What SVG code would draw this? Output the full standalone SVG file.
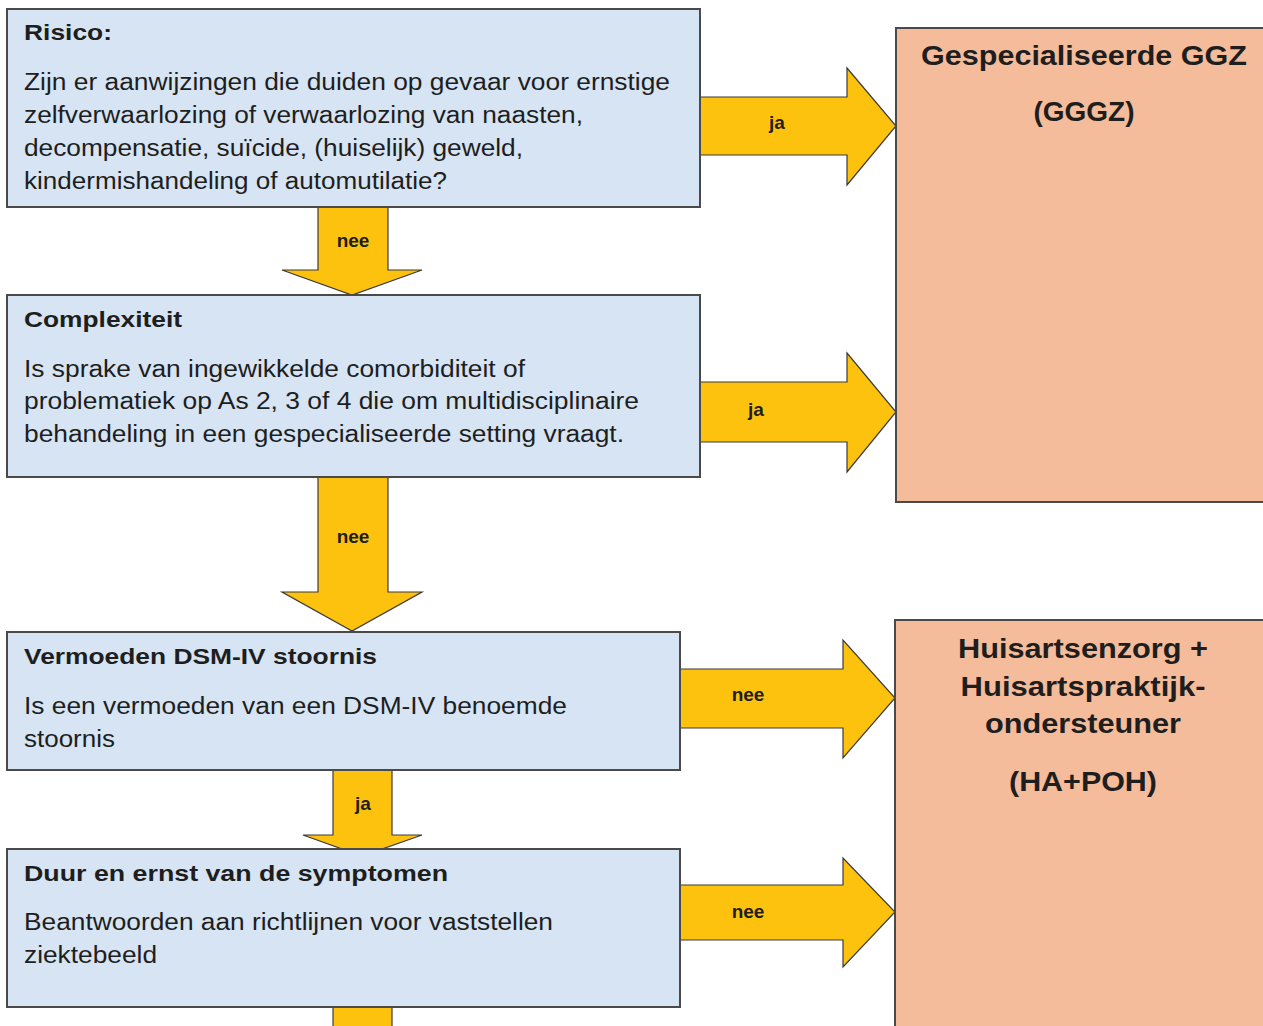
<svg xmlns="http://www.w3.org/2000/svg" width="1263" height="1026" viewBox="0 0 1263 1026">
<style>
.q{fill:#d6e4f3;stroke:#4a4a4a;stroke-width:2}
.o{fill:#f5bc9b;stroke:#4a4a4a;stroke-width:2}
.a{fill:#fdc20e;stroke:#3a3a3a;stroke-width:1.2;stroke-linejoin:miter}
.t{font-family:"Liberation Sans",Arial,sans-serif;font-size:23px;fill:#1e1e1e}
.b{font-family:"Liberation Sans",Arial,sans-serif;font-size:22px;font-weight:bold;fill:#1e1e1e}
.h{font-family:"Liberation Sans",Arial,sans-serif;font-size:28px;font-weight:bold;fill:#1e1e1e;text-anchor:middle}
.l{font-family:"Liberation Sans",Arial,sans-serif;font-size:19px;font-weight:bold;fill:#1e1e1e;text-anchor:middle}
</style>
<rect width="1263" height="1026" fill="#ffffff"/>
<g id="connectors">
<polygon class="a" points="700,97 847,97 847,68 896,126 847,185 847,155 700,155"/>
<text class="l" x="777" y="129">ja</text>
<polygon class="a" points="700,382 847,382 847,353 896,412 847,472 847,442 700,442"/>
<text class="l" x="756" y="416">ja</text>
<polygon class="a" points="680,669 843,669 843,640 895,698 843,758 843,728 680,728"/>
<text class="l" x="748" y="701">nee</text>
<polygon class="a" points="680,885 843,885 843,858 895,912 843,967 843,940 680,940"/>
<text class="l" x="748" y="918">nee</text>
<polygon class="a" points="318,207 388,207 388,270 422,270 352,295 282,270 318,270"/>
<text class="l" x="353" y="247">nee</text>
<polygon class="a" points="318,477 388,477 388,592 422,592 352,631 282,592 318,592"/>
<text class="l" x="353" y="543">nee</text>
<polygon class="a" points="333,770 392,770 392,835 422,835 362,856 303,835 333,835"/>
<text class="l" x="363" y="810">ja</text>
<polygon class="a" points="333,1007 392,1007 392,1030 333,1030"/>
</g>
<g id="ggz">
<rect class="o" x="896" y="28" width="380" height="474"/>
<text class="h" x="1084" y="65" textLength="326" lengthAdjust="spacingAndGlyphs">Gespecialiseerde GGZ</text>
<text class="h" x="1084" y="121">(GGGZ)</text>
</g>
<g id="haPoh">
<rect class="o" x="895" y="620" width="380" height="420"/>
<text class="h" x="1083" y="658" textLength="250" lengthAdjust="spacingAndGlyphs">Huisartsenzorg +</text>
<text class="h" x="1083" y="696" textLength="245" lengthAdjust="spacingAndGlyphs">Huisartspraktijk-</text>
<text class="h" x="1083" y="733" textLength="196" lengthAdjust="spacingAndGlyphs">ondersteuner</text>
<text class="h" x="1083" y="791" textLength="148" lengthAdjust="spacingAndGlyphs">(HA+POH)</text>
</g>
<g id="risico">
<rect class="q" x="7" y="9" width="693" height="198"/>
<text class="b" x="24" y="40" textLength="88" lengthAdjust="spacingAndGlyphs">Risico:</text>
<text class="t" x="24" y="90" textLength="646" lengthAdjust="spacingAndGlyphs">Zijn er aanwijzingen die duiden op gevaar voor ernstige</text>
<text class="t" x="24" y="123" textLength="559" lengthAdjust="spacingAndGlyphs">zelfverwaarlozing of verwaarlozing van naasten,</text>
<text class="t" x="24" y="156" textLength="499" lengthAdjust="spacingAndGlyphs">decompensatie, suïcide, (huiselijk) geweld,</text>
<text class="t" x="24" y="189" textLength="423" lengthAdjust="spacingAndGlyphs">kindermishandeling of automutilatie?</text>
</g>
<g id="complexiteit">
<rect class="q" x="7" y="295" width="693" height="182"/>
<text class="b" x="24" y="327" textLength="158" lengthAdjust="spacingAndGlyphs">Complexiteit</text>
<text class="t" x="24" y="377" textLength="501" lengthAdjust="spacingAndGlyphs">Is sprake van ingewikkelde comorbiditeit of</text>
<text class="t" x="24" y="409" textLength="615" lengthAdjust="spacingAndGlyphs">problematiek op As 2, 3 of 4 die om multidisciplinaire</text>
<text class="t" x="24" y="442" textLength="600" lengthAdjust="spacingAndGlyphs">behandeling in een gespecialiseerde setting vraagt.</text>
</g>
<g id="dsm">
<rect class="q" x="7" y="632" width="673" height="138"/>
<text class="b" x="24" y="664" textLength="353" lengthAdjust="spacingAndGlyphs">Vermoeden DSM-IV stoornis</text>
<text class="t" x="24" y="714" textLength="543" lengthAdjust="spacingAndGlyphs">Is een vermoeden van een DSM-IV benoemde</text>
<text class="t" x="24" y="747" textLength="91" lengthAdjust="spacingAndGlyphs">stoornis</text>
</g>
<g id="duur">
<rect class="q" x="7" y="849" width="673" height="158"/>
<text class="b" x="24" y="881" textLength="424" lengthAdjust="spacingAndGlyphs">Duur  en ernst van de symptomen</text>
<text class="t" x="24" y="930" textLength="529" lengthAdjust="spacingAndGlyphs">Beantwoorden aan richtlijnen voor vaststellen</text>
<text class="t" x="24" y="963" textLength="133" lengthAdjust="spacingAndGlyphs">ziektebeeld</text>
</g>
</svg>
